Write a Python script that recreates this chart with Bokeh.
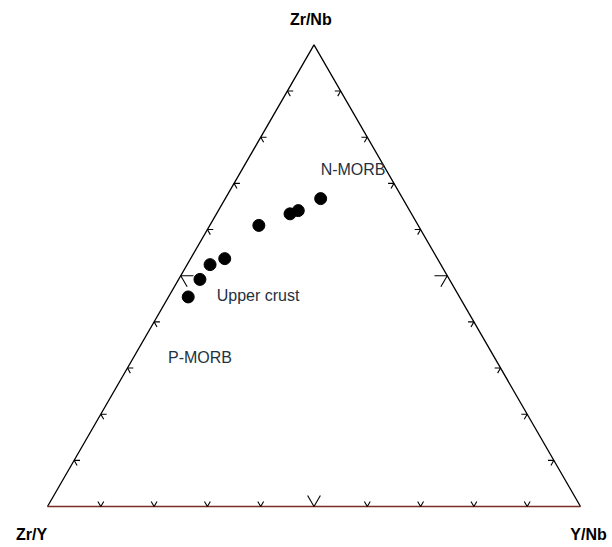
import math
from bokeh.plotting import figure
from bokeh.models import Range1d
from bokeh.core.properties import value
from bokeh.embed import file_html
from bokeh.resources import INLINE

# ---- data: ternary fractions (top = Zr/Nb, left = Zr/Y, right = Y/Nb)
zr_nb = [0.667, 0.641, 0.634, 0.609, 0.537, 0.524, 0.492, 0.454]
y_nb  = [0.179, 0.150, 0.138, 0.092, 0.064, 0.043, 0.040, 0.037]
zr_y  = [1 - a - c for a, c in zip(zr_nb, y_nb)]

apex_labels = ["Zr/Nb", "Zr/Y", "Y/Nb"]
field_names = ["N-MORB", "Upper crust", "P-MORB"]
field_top   = [0.729, 0.457, 0.322]
field_right = [0.148, 0.089, 0.065]
tick_fracs  = [0.1, 0.2, 0.3, 0.4, 0.5, 0.6, 0.7, 0.8, 0.9]

H = math.sqrt(3) / 2

def tern(a, c):
    return c + a / 2.0, a * H

S = 533.0
X0, Y0 = 47, 506          # bottom-left vertex in canvas pixels
W, HT = 610, 545
p = figure(width=W, height=HT, output_backend="svg", toolbar_location=None,
           x_axis_type=None, y_axis_type=None, min_border=0,
           x_range=Range1d(-X0 / S, (W - X0) / S),
           y_range=Range1d(-(HT - Y0) / S, Y0 / S))
p.outline_line_color = None
p.grid.visible = False
p.background_fill_color = "white"
p.border_fill_color = "white"

# triangle
p.line([0, 0.5, 1], [0, H, 0], line_color="black", line_width=1.3)
p.line([0, 1], [0, 0], line_color="#7a2e25", line_width=1.4)

# ticks (chevrons)
xs, ys = [], []
for t in tick_fracs:
    L = 0.024 if abs(t - 0.5) < 1e-9 else 0.011
    x0, y0 = t, 0.0
    xs.append([x0 - L * 0.5, x0, x0 + L * 0.5]); ys.append([L * H, y0, L * H])
    x0, y0 = t * 0.5, t * H
    xs.append([x0 + L, x0, x0 + L * 0.5]); ys.append([y0, y0, y0 - L * H])
    x0, y0 = 1 - t * 0.5, t * H
    xs.append([x0 - L, x0, x0 - L * 0.5]); ys.append([y0, y0, y0 - L * H])
p.multi_line(xs, ys, line_color="black", line_width=1.1)

# data points
px, py = zip(*[tern(a, c) for a, c in zip(zr_nb, y_nb)])
p.scatter(list(px), list(py), size=12, marker="circle",
          fill_color="black", line_color="black")

# field labels
fx, fy = zip(*[tern(a, c) for a, c in zip(field_top, field_right)])
p.text(list(fx), list(fy), text=field_names, text_font=value("Liberation Sans"),
       text_font_size="16px", text_color="#24323f",
       text_align="left", text_baseline="middle")

# apex labels
p.text([0.494, -0.03, 1.015], [0.913, -0.053, -0.052], text=apex_labels,
       text_font=value("Liberation Sans"), text_font_style="bold",
       text_font_size="16px", text_color="black",
       text_align="center", text_baseline="middle")

open("out.html", "w").write(file_html(p, INLINE))
